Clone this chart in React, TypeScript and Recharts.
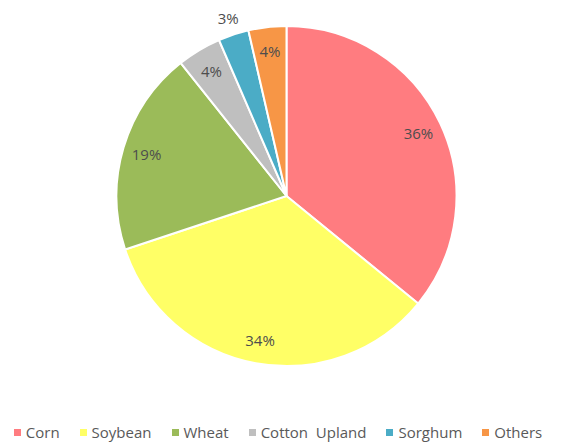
import { PieChart, Pie, Cell, Legend } from 'recharts';

const crops = ['Corn', 'Soybean', 'Wheat', 'Cotton  Upland', 'Sorghum', 'Others'];
const shares = [35.9, 34.0, 19.4, 4.2, 2.9, 3.6];
const colors = ['#FF7C80', '#FFFF66', '#9BBB59', '#BFBFBF', '#4BACC6', '#F79646'];

const data = crops.map((name, i) => ({ name, value: shares[i] }));
const total = shares.reduce((a, b) => a + b, 0);

const RAD = Math.PI / 180;
const FONT = "'Open Sans', 'Noto Sans', sans-serif";

const renderLabel = ({ cx, cy, midAngle, outerRadius, index, value }: any) => {
  // small Sorghum slice is labelled outside, the rest inside near the rim
  const r = index === 4 ? outerRadius + 17 : outerRadius - 24;
  const x = cx + r * Math.cos(-midAngle * RAD);
  const y = cy + r * Math.sin(-midAngle * RAD);
  return (
    <text
      x={x}
      y={y}
      fill="#4d4d4d"
      fontSize={15}
      fontFamily={FONT}
      textAnchor="middle"
      dominantBaseline="central"
    >
      {`${Math.round((value / total) * 100)}%`}
    </text>
  );
};

const CropLegend = () => (
  <div
    style={{
      display: 'flex',
      justifyContent: 'center',
      gap: 20,
      fontFamily: FONT,
      fontSize: 15,
      color: '#595959',
    }}
  >
    {crops.map((c, i) => (
      <div key={c} style={{ display: 'flex', alignItems: 'center', whiteSpace: 'pre' }}>
        <span style={{ width: 7, height: 7, background: colors[i], marginRight: 5, display: 'inline-block' }} />
        {c}
      </div>
    ))}
  </div>
);

export default function App() {
  return (
    <div style={{ position: 'absolute', left: 0, top: 0, background: '#fff' }}>
      <PieChart width={568} height={442} margin={{ top: 0, right: 0, bottom: 0, left: 0 }}>
        <Pie
          data={data}
          dataKey="value"
          nameKey="name"
          cx={286.5}
          cy={196}
          outerRadius={170}
          startAngle={90}
          endAngle={-270}
          stroke="#fff"
          strokeWidth={2}
          label={renderLabel}
          labelLine={false}
          isAnimationActive={false}
        >
          {data.map((d, i) => (
            <Cell key={d.name} fill={colors[i]} />
          ))}
        </Pie>
        <Legend
          content={<CropLegend />}
          wrapperStyle={{ left: -6, top: 422, width: 568 }}
        />
      </PieChart>
    </div>
  );
}
